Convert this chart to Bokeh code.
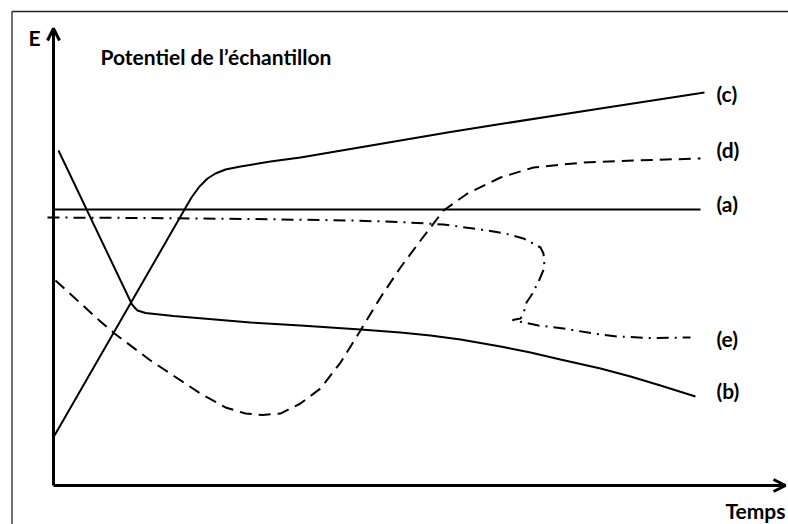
from bokeh.plotting import figure
from bokeh.models import Range1d, Arrow, OpenHead
from bokeh.core.properties import value
from bokeh.embed import file_html
from bokeh.resources import INLINE

# ---- data (arbitrary units: time t 0..100, potential E 0..100) ----
a_t = [0.0, 88.39]
a_E = [60.39, 60.39]

b_t = [0.68, 10.66, 11.07, 11.48, 12.57, 16.39, 26.91, 33.74, 41.94, 47.40, 51.50, 55.60, 61.07, 65.16, 69.26,
       74.73, 78.83, 82.92, 87.70]
b_E = [73.30, 39.82, 38.95, 38.29, 37.75, 37.09, 35.67, 35.01, 34.14, 33.48, 32.82, 31.95, 30.42, 29.10, 27.57,
       25.60, 23.85, 21.88, 19.47]

c_t = [0.14, 17.90, 18.85, 19.95, 21.04, 22.13, 23.50, 25.55, 29.64, 33.74, 40.57, 47.40, 54.23, 61.07, 74.73, 88.93]
c_E = [10.94, 60.39, 63.02, 65.43, 67.18, 68.27, 69.15, 69.80, 70.90, 71.77, 73.63, 75.49, 77.35, 79.10, 82.49, 86.00]

d_t = [0.27, 6.42, 8.33, 13.25, 20.08, 23.50, 26.23, 28.55, 31.01, 33.74, 36.48, 39.21, 41.94, 44.67, 47.40,
       50.14, 53.28, 56.56, 61.07, 65.57, 72.40, 79.23, 88.39]
d_E = [44.86, 35.89, 33.26, 27.35, 20.13, 17.07, 15.75, 15.43, 15.75, 17.94, 21.23, 26.91, 33.92, 41.14, 47.70,
       53.61, 60.18, 63.89, 67.40, 69.58, 70.68, 71.12, 71.55]

e_t = [-0.82, 13.25, 26.91, 40.57, 47.40, 53.28, 58.33, 61.75, 64.21, 66.53, 66.94, 67.08, 66.39, 65.44, 64.62,
       64.21, 63.80, 62.70, 63.93, 66.26, 69.67, 73.77, 77.05, 81.56, 87.02]
e_E = [58.64, 58.53, 58.32, 57.99, 57.66, 57.11, 56.02, 55.14, 54.05, 52.08, 50.77, 47.70, 45.08, 42.01, 40.04,
       37.64, 36.54, 36.21, 35.78, 35.01, 34.35, 33.26, 32.60, 32.28, 32.39]

curve_labels = ["(c)", "(d)", "(a)", "(e)", "(b)"]
label_E = [85.78, 73.63, 61.71, 32.06, 20.68]
label_t = 90.57

title_text = "Potentiel de l\u2019\u00e9chantillon"
y_label = "E"
x_label = "Temps"

# ---- figure ----
X0, X1 = -7.240, 100.41
Y0, Y1 = -8.534, 106.13
p = figure(width=788, height=524, output_backend="svg", toolbar_location=None,
           x_range=Range1d(X0, X1), y_range=Range1d(Y0, Y1),
           x_axis_location=None, y_axis_location=None)
p.min_border_left = 0
p.min_border_right = 0
p.min_border_top = 0
p.min_border_bottom = 0
p.grid.visible = False
p.outline_line_color = None
p.background_fill_color = "white"
p.border_fill_color = "white"

# picture frame (top and left edges)
bt, bE = -5.67, 103.72
p.segment(x0=[bt, bt], y0=[bE, bE], x1=[bt, X1 + 5], y1=[Y0 - 5, bE],
          line_color="#222222", line_width=1.3)

# axes with arrows
p.add_layout(Arrow(x_start=0, y_start=0, x_end=0, y_end=100, line_width=3, line_color="black",
                   end=OpenHead(size=12, line_width=3, line_color="black")))
p.add_layout(Arrow(x_start=0, y_start=0, x_end=100, y_end=0, line_width=3, line_color="black",
                   end=OpenHead(size=12, line_width=3, line_color="black")))

# curves
p.line(a_t, a_E, line_color="black", line_width=2)
p.line(b_t, b_E, line_color="black", line_width=2)
p.line(c_t, c_E, line_color="black", line_width=2)
p.line(d_t, d_E, line_color="black", line_width=2, line_dash="12 7")
p.line(e_t, e_E, line_color="black", line_width=2, line_dash="12 6 2 6")

fnt = value("Lato")
fs = "21px"
p.text(x=[label_t] * len(curve_labels), y=label_E, text=curve_labels, text_font=fnt,
       text_font_style="bold", text_font_size=fs, text_baseline="alphabetic",
       text_align="left", text_color="black")
p.text(x=[6.42], y=[93.98], text=[title_text], text_font=fnt, text_font_style="bold",
       text_font_size=fs, text_baseline="alphabetic", text_align="left", text_color="black")
p.text(x=[-3.42], y=[98.03], text=[y_label], text_font=fnt, text_font_style="bold",
       text_font_size=fs, text_baseline="alphabetic", text_align="left", text_color="black")
p.text(x=[91.80], y=[-5.47], text=[x_label], text_font=fnt, text_font_style="bold",
       text_font_size=fs, text_baseline="alphabetic", text_align="left", text_color="black")

open("out.html", "w").write(file_html(p, INLINE))
